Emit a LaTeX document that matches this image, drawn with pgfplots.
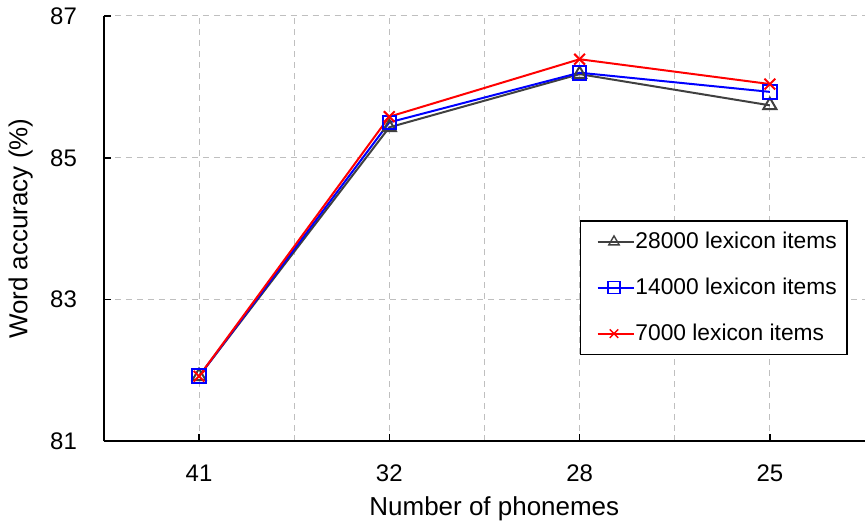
\documentclass[border=0pt]{standalone}
\usepackage{fontspec}
\setmainfont{Liberation Sans}
\usepackage{pgfplots}
\pgfplotsset{compat=1.18}
\definecolor{dgray}{RGB}{64,64,64}
\begin{document}
\begin{tikzpicture}
\useasboundingbox (-52pt,-43.5pt) rectangle (381.5pt,221pt);
\begin{axis}[
  at={(0,0)}, anchor=south west,
  scale only axis, width=381pt, height=213pt,
  xmin=-0.5, xmax=3.5, ymin=81, ymax=87,
  axis x line=bottom, axis y line=left,
  axis line style={-, line width=1pt, black},
  xtick={0,1,2,3}, xticklabels={41,32,28,25},
  minor xtick={0.5,1.5,2.5},
  ytick={81,83,85,87},
  major tick length=3.5pt, minor tick length=0pt,
  tick align=inside,
  tick style={black, line width=0.8pt},
  grid=both,
  major grid style={gray!50, dashed, line width=0.5pt, dash pattern=on 3pt off 2.5pt},
  minor grid style={gray!50, dashed, line width=0.5pt, dash pattern=on 3pt off 2.5pt},
  /pgf/number format/assume math mode=true,
  tick label style={font=\fontsize{12}{14}\selectfont},
  yticklabel style={xshift=-10pt},
  xticklabel style={yshift=-8pt},
  xlabel={Number of phonemes},
  ylabel={Word accuracy (\%)},
  label style={font=\fontsize{13}{15}\selectfont},
  xlabel style={at={(axis description cs:0.513,0)}, anchor=north, yshift=-24pt},
  ylabel style={at={(axis description cs:-0.084,0.5)}, anchor=south, rotate=0},
  legend cell align=left,
  legend style={at={(rel axis cs:0.977,0.52)}, anchor=north east,
    draw=black, line width=0.75pt, font=\fontsize{11.4}{13.5}\selectfont,
    row sep=9.2pt, inner xsep=3pt, inner ysep=3.6pt},
  legend image code/.code={%
    \path (0pt,0pt);
    \draw[mark repeat=2,mark phase=2,#1,mark size=3pt,every mark/.append style={line width=0.7pt}]
      plot coordinates {(5pt,0pt) (13.25pt,0pt) (21.5pt,0pt)};
    \draw[#1,mark=none,overlay] (21pt,0pt) -- (23.5pt,0pt);},
]
\addplot[color=dgray, line width=1pt, mark=triangle, mark size=3.8pt, mark options={solid, fill=white}]
  coordinates {(0,81.92) (1,85.43) (2,86.18) (3,85.74)};
\addlegendentry{28000 lexicon items}
\addplot[color=blue, line width=1pt, mark=square, mark size=3.4pt, mark options={solid, fill=none}]
  coordinates {(0,81.92) (1,85.50) (2,86.20) (3,85.93)};
\addlegendentry{14000 lexicon items}
\addplot[color=red, line width=1pt, mark=x, mark size=3.8pt, mark options={solid}]
  coordinates {(0,81.92) (1,85.58) (2,86.39) (3,86.04)};
\addlegendentry{7000 lexicon items}
\end{axis}
\end{tikzpicture}
\end{document}
